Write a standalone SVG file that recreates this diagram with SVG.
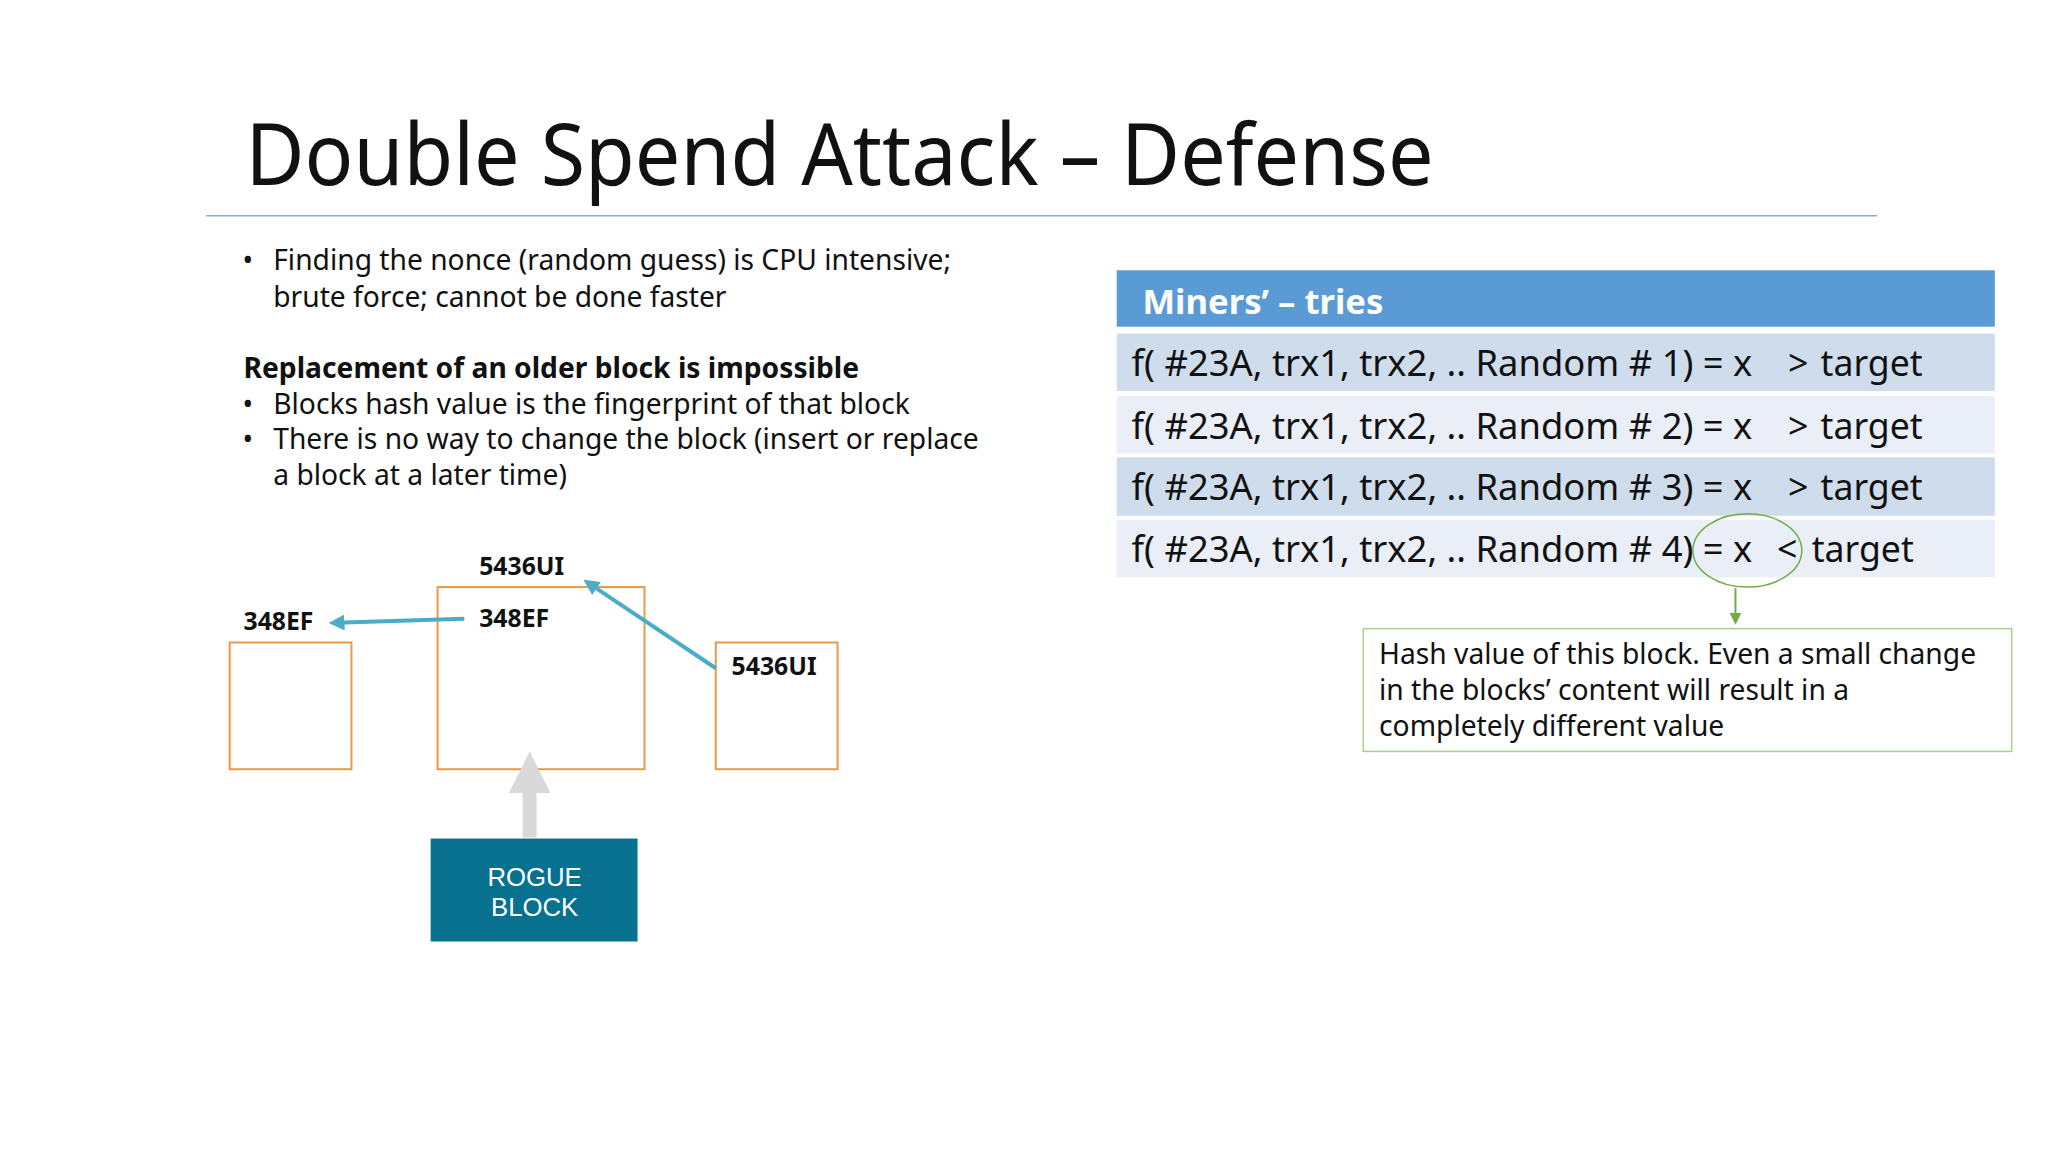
<svg xmlns="http://www.w3.org/2000/svg" width="2048" height="1152" viewBox="0 0 2048 1152">
<style>
.t{font-family:"Noto Sans","Open Sans",sans-serif;fill:#111}
.b{font-size:28.5px}
.r{font-size:36px}
.lbl{font-family:"Noto Sans",sans-serif;font-weight:bold;font-size:25px;fill:#111}
.blk{fill:#fff;stroke:#e59a45;stroke-width:2}
</style>
<defs>
<marker id="ac" viewBox="0 0 10 10" refX="5" refY="5" markerWidth="4" markerHeight="4" orient="auto"><path d="M0,0L10,5L0,10z" fill="#4bacc6"/></marker>
<marker id="ag" viewBox="0 0 10 10" refX="5" refY="5" markerWidth="6" markerHeight="6" orient="auto"><path d="M0,0L10,5L0,10z" fill="#70ad47"/></marker>
<marker id="agr" viewBox="0 0 10 10" refX="5" refY="5" markerWidth="3" markerHeight="3" orient="auto"><path d="M0,0L10,5L0,10z" fill="#d9d9d9"/></marker>
</defs>
<rect width="2048" height="1152" fill="#fff"/>
<g transform="scale(0.99)">
<text x="248" y="187" class="t" font-size="86" textLength="1200" lengthAdjust="spacingAndGlyphs">Double Spend Attack – Defense</text>
<line x1="208" y1="218" x2="1896" y2="218" stroke="#8ea9cf" stroke-width="1.5"/>
<g class="t b">
<text x="245" y="273">•</text><text x="276" y="273">Finding the nonce (random guess) is CPU intensive;</text>
<text x="276" y="310">brute force; cannot be done faster</text>
<text x="246" y="382" font-weight="bold">Replacement of an older block is impossible</text>
<text x="245" y="418">•</text><text x="276" y="418">Blocks hash value is the fingerprint of that block</text>
<text x="245" y="454">•</text><text x="276" y="454">There is no way to change the block (insert or replace</text>
<text x="276" y="490">a block at a later time)</text>
</g>
<g id="table">
<rect x="1128" y="273" width="887" height="57" fill="#5b9bd5"/>
<text x="1154" y="317" font-family="Noto Sans,sans-serif" font-weight="bold" font-size="35" fill="#fff">Miners’ – tries</text>
<rect x="1128" y="337" width="887" height="58" fill="#cfdcec"/>
<rect x="1128" y="400" width="887" height="58" fill="#e9eef7"/>
<rect x="1128" y="462" width="887" height="59" fill="#cfdcec"/>
<rect x="1128" y="525" width="887" height="58" fill="#e9eef7"/>
<g class="t r">
<text x="1143" y="380" textLength="627" lengthAdjust="spacingAndGlyphs">f( #23A, trx1, trx2, .. Random # 1) = x</text><text x="1806" y="380">&gt;</text><text x="1839" y="380">target</text>
<text x="1143" y="443" textLength="627" lengthAdjust="spacingAndGlyphs">f( #23A, trx1, trx2, .. Random # 2) = x</text><text x="1806" y="443">&gt;</text><text x="1839" y="443">target</text>
<text x="1143" y="505" textLength="627" lengthAdjust="spacingAndGlyphs">f( #23A, trx1, trx2, .. Random # 3) = x</text><text x="1806" y="505">&gt;</text><text x="1839" y="505">target</text>
<text x="1143" y="568" textLength="627" lengthAdjust="spacingAndGlyphs">f( #23A, trx1, trx2, .. Random # 4) = x</text><text x="1795" y="568">&lt;</text><text x="1830" y="568">target</text>
</g>
<ellipse cx="1765" cy="556" rx="55" ry="37" fill="none" stroke="#70ad47" stroke-width="1.5"/>
</g>
<g id="note">
<rect x="1377" y="635" width="655" height="124" fill="#fff" stroke="#a9d18e" stroke-width="1.5"/>
<g class="t b"><text x="1393" y="671">Hash value of this block. Even a small change</text>
<text x="1393" y="707">in the blocks’ content will result in a</text>
<text x="1393" y="743">completely different value</text></g>
</g>
<g id="blocks">
<rect class="blk" x="232" y="649" width="123" height="128"/>
<rect class="blk" x="442" y="593" width="209" height="184"/>
<rect class="blk" x="723" y="649" width="123" height="128"/>
<text class="lbl" x="246" y="636">348EF</text>
<text class="lbl" x="484" y="633">348EF</text>
<text class="lbl" x="484" y="581">5436UI</text>
<text class="lbl" x="739" y="682">5436UI</text>
</g>
<g id="rogue">
<rect x="435" y="847" width="209" height="104" fill="#07718f"/>
<text x="540" y="895" text-anchor="middle" font-family="Liberation Sans,sans-serif" font-size="26" fill="#fff">ROGUE</text>
<text x="540" y="925" text-anchor="middle" font-family="Liberation Sans,sans-serif" font-size="26" fill="#fff">BLOCK</text>
</g>
<g id="connectors">
<line x1="469" y1="625" x2="340" y2="629" stroke="#4bacc6" stroke-width="4" marker-end="url(#ac)"/>
<line x1="723" y1="675" x2="596" y2="590" stroke="#4bacc6" stroke-width="4" marker-end="url(#ac)"/>
<line x1="535" y1="846" x2="535" y2="780" stroke="#d9d9d9" stroke-width="14" marker-end="url(#agr)"/>
<line x1="1753" y1="594" x2="1753" y2="625" stroke="#70ad47" stroke-width="2" marker-end="url(#ag)"/>
</g>
</g>
</svg>
